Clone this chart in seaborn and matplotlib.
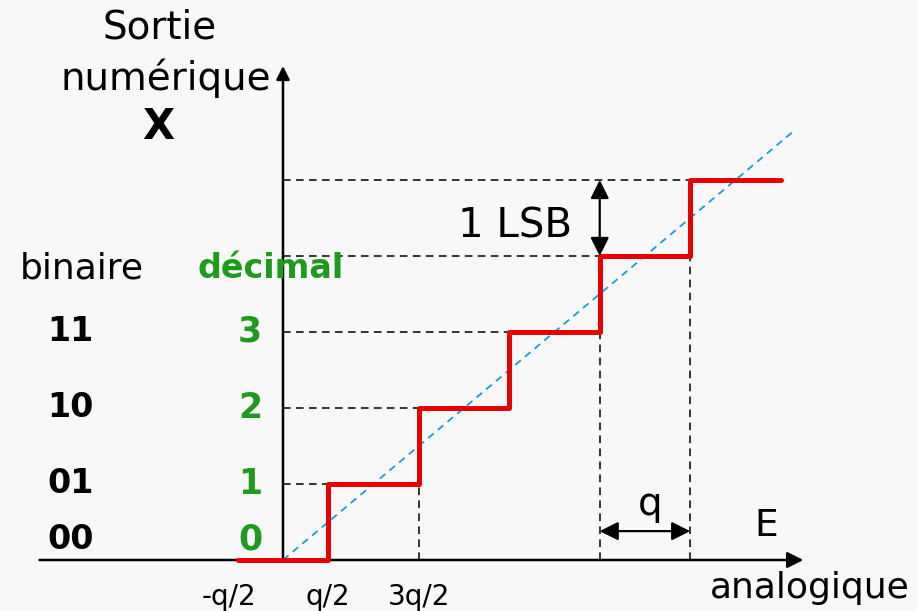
import matplotlib
matplotlib.use("Agg")
import matplotlib.pyplot as plt
import seaborn as sns
import pandas as pd
import numpy as np

# Transfer characteristic of a 2-bit ADC (units: x in q, y in LSB)
step_edges = [-0.5, 0.5, 1.5, 2.5, 3.5, 4.5, 5.5]
step_levels = [0, 1, 2, 3, 4, 5, 5]
ideal_x = [0.0, 5.65]
ideal_y = [0.0, 5.65]
binary_codes = ["00", "01", "10", "11"]
decimal_codes = [0, 1, 2, 3]
tick_pos = [-0.5, 0.5, 1.5]
tick_labels = ["-q/2", "q/2", "3q/2"]

sns.set_theme(style="white")
plt.rcParams["font.family"] = ["DejaVu Sans"]
plt.rcParams["text.color"] = "black"

fig = plt.figure(figsize=(9.17, 6.11), dpi=100)
bg = "#f8f8f8"
fig.patch.set_facecolor(bg)
ax = fig.add_axes([0, 0, 1, 1])
ax.set_facecolor(bg)
ax.set_xlim(-3.127, 7.006)
ax.set_ylim(-0.671, 7.368)
ax.axis("off")

green = "#1f9a1f"
dash = dict(color="black", lw=1.1, ls=(0, (5, 3.5)))

# guide lines from the vertical axis to each step
for lvl in range(1, 6):
    ax.plot([0, lvl - 0.5], [lvl, lvl], **dash, zorder=1)
for x0, top in [(1.5, 2), (3.5, 3), (4.5, 4)]:
    ax.plot([x0, x0], [0, top], **dash, zorder=1)

# axes with arrowheads
ax.annotate("", xy=(0, 6.5), xytext=(0, 0),
            arrowprops=dict(arrowstyle="-|>", color="black", lw=1.8, mutation_scale=20,
                            shrinkA=0, shrinkB=0))
ax.annotate("", xy=(5.75, 0), xytext=(-2.69, 0),
            arrowprops=dict(arrowstyle="-|>", color="black", lw=1.8, mutation_scale=24,
                            shrinkA=0, shrinkB=0))

# ideal line
sns.lineplot(x=ideal_x, y=ideal_y, ax=ax, color="#1b9ad8", lw=1.3,
             linestyle=(0, (4, 3)), zorder=2)

# quantization staircase
df = pd.DataFrame({"E": step_edges, "X": step_levels})
sns.lineplot(data=df, x="E", y="X", ax=ax, sort=False, drawstyle="steps-post",
             color="#e60000", lw=3.6, zorder=3)

# dimension arrows
ax.annotate("", xy=(3.5, 5), xytext=(3.5, 4),
            arrowprops=dict(arrowstyle="<|-|>", color="black", lw=1.6, mutation_scale=28,
                            shrinkA=0, shrinkB=0))
ax.annotate("", xy=(4.5, 0.38), xytext=(3.5, 0.38),
            arrowprops=dict(arrowstyle="<|-|>", color="black", lw=1.6, mutation_scale=28,
                            shrinkA=0, shrinkB=0))

# texts
ax.text(-1.36, 7.0, "Sortie", fontsize=28, ha="center", va="center")
ax.text(-1.30, 6.34, "numérique", fontsize=28, ha="center", va="center")
ax.text(-1.38, 5.70, "X", fontsize=30, fontweight="bold", ha="center", va="center")
ax.text(-2.22, 3.84, "binaire", fontsize=26, ha="center", va="center")
ax.text(-0.14, 3.84, "décimal", fontsize=24, ha="center", va="center",
        color=green, fontweight="bold")
for code, dec in zip(binary_codes, decimal_codes):
    yy = max(dec, 0.27)
    ax.text(-2.35, yy, code, fontsize=24, fontweight="bold", ha="center", va="center")
    ax.text(-0.365, yy, str(dec), fontsize=25, fontweight="bold", ha="center",
            va="center", color=green)
for p, lab in zip(tick_pos, tick_labels):
    ax.text(p - (0.1 if p < 0 else 0), -0.49, lab, fontsize=20, ha="center", va="center")
ax.text(2.56, 4.39, "1 LSB", fontsize=29, ha="center", va="center")
ax.text(4.06, 0.74, "q", fontsize=28, ha="center", va="center")
ax.text(5.34, 0.45, "E", fontsize=27, ha="center", va="center")
ax.text(5.82, -0.37, "analogique", fontsize=26, ha="center", va="center")

fig.savefig("out.png", dpi=100, facecolor=bg)
